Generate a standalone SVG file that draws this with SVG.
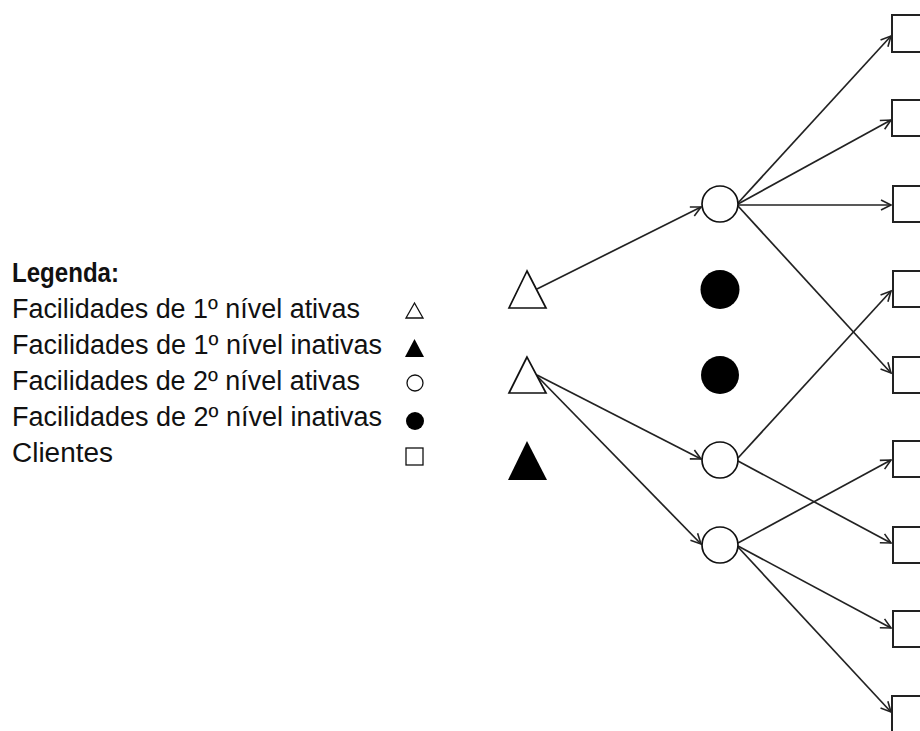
<svg xmlns="http://www.w3.org/2000/svg" width="920" height="731" viewBox="0 0 920 731">
<defs>
<style>
.txt{font-family:"Liberation Sans",Arial,sans-serif;font-size:27px;fill:#111;}
.bold{font-weight:bold;}
.hollow{fill:#fff;stroke:#111;stroke-width:1.7;}
.solid{fill:#000;stroke:none;}
.client{fill:#fff;stroke:#222;stroke-width:2;}
.conn{fill:none;stroke:#222;stroke-width:1.7;marker-end:url(#arr);}
.lg{stroke-width:1.3;}
</style>
<marker id="arr" markerWidth="14" markerHeight="14" refX="11" refY="6" orient="auto" markerUnits="userSpaceOnUse">
<path d="M1,1 L11,6 L1,11" fill="none" stroke="#222" stroke-width="1.6"/>
</marker>
</defs>
<rect width="920" height="731" fill="#fff"/>

<g id="legend">
<text class="txt bold" x="12" y="282" textLength="107" lengthAdjust="spacingAndGlyphs">Legenda:</text>
<text class="txt" x="12" y="318" textLength="348" lengthAdjust="spacingAndGlyphs">Facilidades de 1º nível ativas</text>
<text class="txt" x="12" y="354" textLength="370" lengthAdjust="spacingAndGlyphs">Facilidades de 1º nível inativas</text>
<text class="txt" x="12" y="390" textLength="348" lengthAdjust="spacingAndGlyphs">Facilidades de 2º nível ativas</text>
<text class="txt" x="12" y="426" textLength="370" lengthAdjust="spacingAndGlyphs">Facilidades de 2º nível inativas</text>
<text class="txt" x="12" y="462" textLength="101" lengthAdjust="spacingAndGlyphs">Clientes</text>
<polygon class="hollow lg" points="414.5,303 406,318 423,318"/>
<polygon class="solid" points="414.5,339 405,357 424,357"/>
<circle class="hollow lg" cx="415" cy="383" r="8"/>
<circle class="solid" cx="415" cy="421" r="9"/>
<rect class="hollow lg" x="406" y="448" width="17" height="17"/>
</g>

<g id="connectors">
<line class="conn" x1="537" y1="289" x2="701" y2="207"/>
<line class="conn" x1="537" y1="375" x2="701" y2="459"/>
<line class="conn" x1="537" y1="376" x2="701" y2="544"/>
<line class="conn" x1="738" y1="203" x2="891" y2="36"/>
<line class="conn" x1="738" y1="204" x2="891" y2="120"/>
<line class="conn" x1="738" y1="205" x2="891" y2="205"/>
<line class="conn" x1="738" y1="206" x2="891" y2="373"/>
<line class="conn" x1="738" y1="458" x2="891" y2="291"/>
<line class="conn" x1="738" y1="461" x2="891" y2="543"/>
<line class="conn" x1="738" y1="543" x2="891" y2="460"/>
<line class="conn" x1="738" y1="546" x2="891" y2="628"/>
<line class="conn" x1="738" y1="547" x2="891" y2="712"/>
</g>

<g id="f1-1"><polygon class="hollow" points="527,271 509,308 546,308"/></g>
<g id="f1-2"><polygon class="hollow" points="527,357 509,393 546,393"/></g>
<g id="f1-3"><polygon class="solid" points="527,441 508,480 547,480"/></g>

<g id="f2-1"><circle class="hollow" cx="720" cy="204" r="18"/></g>
<g id="f2-2"><circle class="solid" cx="720" cy="289.5" r="19.5"/></g>
<g id="f2-3"><circle class="solid" cx="720" cy="375" r="19"/></g>
<g id="f2-4"><circle class="hollow" cx="720" cy="460" r="18"/></g>
<g id="f2-5"><circle class="hollow" cx="720" cy="545" r="18"/></g>

<g id="c1"><rect class="client" x="892" y="15" width="40" height="37"/></g>
<g id="c2"><rect class="client" x="892" y="100" width="40" height="36"/></g>
<g id="c3"><rect class="client" x="893" y="186" width="40" height="36"/></g>
<g id="c4"><rect class="client" x="893" y="271" width="40" height="36"/></g>
<g id="c5"><rect class="client" x="893" y="357" width="40" height="36"/></g>
<g id="c6"><rect class="client" x="893" y="441" width="40" height="36"/></g>
<g id="c7"><rect class="client" x="893" y="527" width="40" height="36"/></g>
<g id="c8"><rect class="client" x="893" y="611" width="40" height="36"/></g>
<g id="c9"><rect class="client" x="892" y="696" width="40" height="40"/></g>
</svg>
